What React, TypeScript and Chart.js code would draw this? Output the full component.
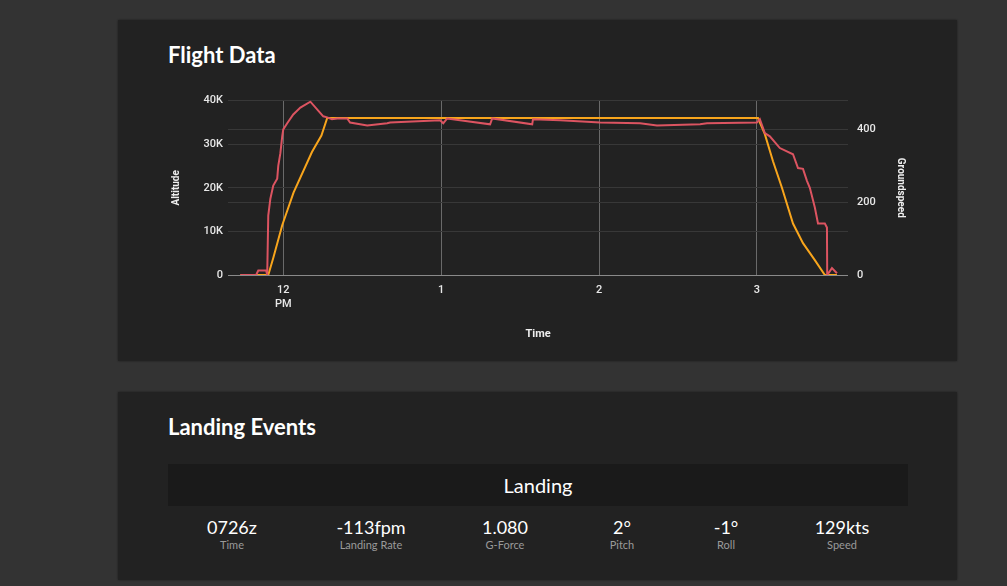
import React, { useEffect, useRef } from "react";
import { Chart, registerables } from "chart.js";

Chart.register(...registerables);

// Minutes relative to 12:00 PM
const SPEED_TIME = [-16.3, -10.3, -9.5, -6.5, -6.1, -5.7, -4.9, -3.8, -2.3, -1.9, -1.1, -0.4, 0, 1.5, 3.8, 6.5, 10.3, 15.2, 16.7, 18.5, 20.5, 24.3, 25.4, 31.9, 39.5, 40.6, 59.6, 60.8, 62.3, 78.6, 79.4, 94.6, 94.9, 105.2, 120.4, 135.6, 142, 158.4, 161, 180, 181.1, 183, 184.9, 188.7, 193.7, 195.6, 197.5, 199, 200.1, 202, 203.2, 205.8, 206.6, 206.7, 208.5, 210.4];
const SPEED_KTS = [0, 0, 12, 12, 0, 163, 209, 245, 264, 299, 334, 380, 399, 416, 440, 459, 475, 435, 432, 427, 429, 429, 418, 410, 416, 418, 424, 416, 429, 413, 429, 413, 427, 424, 418, 416, 410, 413, 416, 418, 427, 389, 380, 348, 331, 293, 291, 258, 239, 185, 141, 141, 130, 0, 19, 5];

const ALT_TIME = [-16.3, -5.7, -3.8, -0.4, 3.9, 10.9, 14.5, 16.7, 180.4, 183, 186.1, 189.5, 193.7, 197.5, 202, 205.8, 210.4];
const ALT_FT = [0, 0, 3900, 11400, 18900, 28200, 32000, 36000, 36000, 32300, 26100, 20000, 11800, 7300, 3400, 0, 0];

const X_TICKS = [0, 60, 120, 180];
const X_TICK_LABELS: (string | string[])[] = [["12", "PM"], "1", "2", "3"];
const ALT_TICKS = [0, 10000, 20000, 30000, 40000];
const SPEED_TICKS = [0, 200, 400];

const LANDING_VALUES = ["0726z", "-113fpm", "1.080", "2°", "-1°", "129kts"];
const LANDING_LABELS = ["Time", "Landing Rate", "G-Force", "Pitch", "Roll", "Speed"];
const LANDING_CENTERS = [114, 253, 387, 504, 608, 724];

const RED = "#dc5461";
const ORANGE = "#f8a51c";

function FlightChart() {
  const ref = useRef<HTMLCanvasElement | null>(null);
  useEffect(() => {
    if (!ref.current) return;
    const tickFont = { family: "Roboto", size: 11, weight: "500" as const };
    const titleFont = { family: "Roboto", size: 10, weight: "bold" as const };
    const chart = new Chart(ref.current, {
      type: "line",
      data: {
        datasets: [
          {
            label: "Groundspeed",
            data: SPEED_TIME.map((t, i) => ({ x: t, y: SPEED_KTS[i] })),
            borderColor: RED,
            borderWidth: 2,
            pointRadius: 0,
            yAxisID: "y1",
            tension: 0,
          },
          {
            label: "Altitude",
            data: ALT_TIME.map((t, i) => ({ x: t, y: ALT_FT[i] })),
            borderColor: ORANGE,
            borderWidth: 2,
            pointRadius: 0,
            yAxisID: "y",
            tension: 0,
          },
        ],
      },
      options: {
        animation: false,
        responsive: false,
        maintainAspectRatio: false,
        layout: { padding: { left: 0, right: 8, top: 4, bottom: 0 } },
        plugins: { legend: { display: false }, tooltip: { enabled: false } },
        scales: {
          x: {
            type: "linear",
            min: -21,
            max: 214.6,
            afterBuildTicks: (axis: any) => {
              axis.ticks = X_TICKS.map((v) => ({ value: v }));
            },
            afterFit: (scale: any) => {
              scale.height = 75;
            },
            ticks: {
              color: "#e8e8e8",
              font: tickFont,
              padding: 9,
              maxRotation: 0,
              autoSkip: false,
              callback: (v: any) => {
                const i = X_TICKS.indexOf(Number(v));
                return i >= 0 ? X_TICK_LABELS[i] : null;
              },
            },
            grid: { color: "#6a6a6a", drawTicks: false, lineWidth: 1 },
            border: { display: false },
            title: {
              display: true,
              text: "Time",
              color: "#eeeeee",
              font: { family: "Roboto", size: 11, weight: "bold" },
              padding: { top: 4, bottom: 9 },
            },
          },
          y: {
            type: "linear",
            position: "left",
            min: 0,
            max: 40000,
            afterBuildTicks: (axis: any) => {
              axis.ticks = ALT_TICKS.map((v) => ({ value: v }));
            },
            afterFit: (scale: any) => {
              scale.width = 70;
            },
            ticks: {
              color: "#e8e8e8",
              font: tickFont,
              padding: 5,
              callback: (v: any) => (Number(v) === 0 ? "0" : Number(v) / 1000 + "K"),
            },
            grid: {
              color: (c: any) => (c.tick && c.tick.value === 0 ? "#8a8a8a" : "#383838"),
              drawTicks: false,
            },
            border: { display: false },
            title: {
              display: true,
              text: "Altitude",
              color: "#eeeeee",
              font: titleFont,
              padding: { top: 12, bottom: 4 },
            },
          },
          y1: {
            type: "linear",
            position: "right",
            min: 0,
            max: 478,
            afterBuildTicks: (axis: any) => {
              axis.ticks = SPEED_TICKS.map((v) => ({ value: v }));
            },
            afterFit: (scale: any) => {
              scale.width = 62;
            },
            ticks: { color: "#e8e8e8", font: tickFont, padding: 9 },
            grid: {
              color: (c: any) => (c.tick && c.tick.value === 0 ? "#8a8a8a" : "#383838"),
              drawTicks: false,
            },
            border: { display: false },
            title: {
              display: true,
              text: "Groundspeed",
              color: "#eeeeee",
              font: titleFont,
              padding: { top: 4, bottom: 4 },
            },
          },
        },
      },
    });
    return () => chart.destroy();
  }, []);
  return <canvas ref={ref} width={760} height={265} style={{ position: "absolute", left: 40, top: 65, width: 760, height: 265 }} />;
}

const cardStyle: React.CSSProperties = {
  position: "absolute",
  left: 118,
  width: 839,
  background: "#222222",
  boxShadow: "0 0 2px rgba(0,0,0,0.45)",
};

const headingStyle: React.CSSProperties = {
  position: "absolute",
  left: 50,
  margin: 0,
  fontFamily: "Lato, sans-serif",
  fontWeight: 700,
  fontSize: 22,
  color: "#ffffff",
  lineHeight: "26px",
};

export default function App() {
  return (
    <div style={{ position: "fixed", left: 0, top: 0, right: 0, bottom: 0, background: "#333333", overflow: "hidden" }}>
      <div style={{ ...cardStyle, top: 20, height: 341 }}>
        <div style={{ ...headingStyle, top: 22 }}>Flight Data</div>
        <FlightChart />
      </div>
      <div style={{ ...cardStyle, top: 392, height: 188 }}>
        <div style={{ ...headingStyle, top: 22 }}>Landing Events</div>
        <div
          style={{
            position: "absolute",
            left: 50,
            top: 72,
            width: 740,
            height: 42,
            background: "#1a1a1a",
            color: "#ffffff",
            fontFamily: "Lato, sans-serif",
            fontSize: 20,
            lineHeight: "42px",
            textAlign: "center",
          }}
        >
          Landing
        </div>
        {LANDING_VALUES.map((v, i) => (
          <div
            key={i}
            style={{
              position: "absolute",
              left: LANDING_CENTERS[i] - 70,
              width: 140,
              top: 124,
              textAlign: "center",
              fontFamily: "Lato, sans-serif",
            }}
          >
            <div style={{ color: "#ffffff", fontSize: 18, lineHeight: "22px" }}>{v}</div>
            <div style={{ color: "#9a9a9a", fontSize: 11, lineHeight: "14px" }}>{LANDING_LABELS[i]}</div>
          </div>
        ))}
      </div>
    </div>
  );
}
